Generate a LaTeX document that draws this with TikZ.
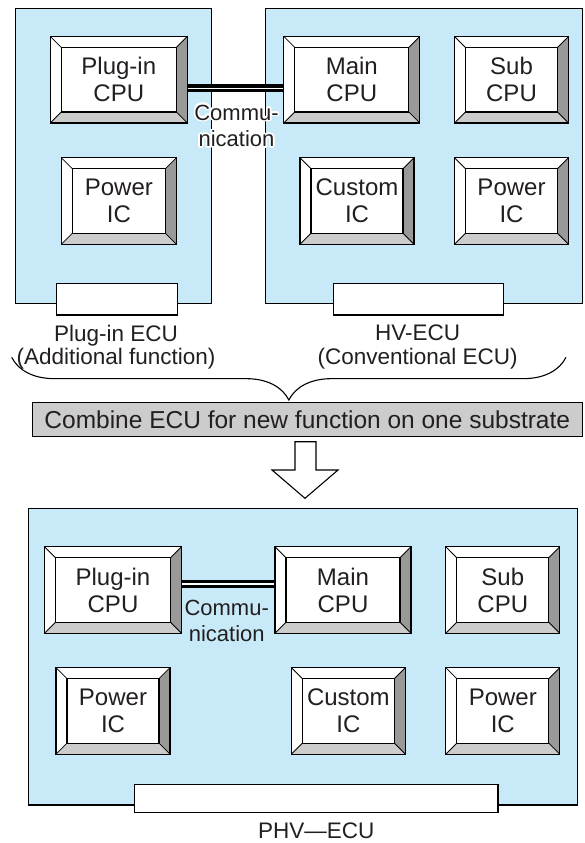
\documentclass[tikz,border=0pt]{standalone}
\usepackage{fontspec}
\usepackage{contour}
\usetikzlibrary{calc}
\usetikzlibrary{decorations.pathreplacing}
\newfontfamily\ecufont{Liberation Sans}
\definecolor{board}{HTML}{C8EAF8}
\definecolor{bevellow}{HTML}{CCCCCC}
\definecolor{bevelright}{HTML}{999999}
\definecolor{banner}{HTML}{CCCCCC}
\definecolor{ink}{HTML}{231F20}
\newcommand{\bevw}{11pt}
\contourlength{1.6pt}
\tikzset{
	chip/.style={draw, line width=1.1pt, minimum height=86.5pt, inner sep=0pt, align=center,
		text=ink, font=\ecufont\fontsize{24}{27}\selectfont,
		path picture={
			\path (path picture bounding box.south west) coordinate (csw)
				(path picture bounding box.north east) coordinate (cne)
				(path picture bounding box.north west) coordinate (cnw)
				(path picture bounding box.south east) coordinate (cse);
			\fill[bevellow] (csw) rectangle (cne);
			\fill[bevelright] (cne) -- ++(-\bevw,-\bevw) -- ($(cse)+(-\bevw,\bevw)$) -- (cse) -- cycle;
			\fill[white] (csw) -- (cnw) -- (cne) -- ++(-\bevw,-\bevw) -- ($(cnw)+(\bevw,-\bevw)$) -- ($(csw)+(\bevw,\bevw)$) -- cycle;
			\draw[line width=1.1pt, fill=white] ($(csw)+(\bevw,\bevw)$) rectangle ($(cne)+(-\bevw,-\bevw)$);
			\draw[line width=0.8pt] (csw) -- ++(\bevw,\bevw) (cnw) -- ++(\bevw,-\bevw)
				(cne) -- ++(-\bevw,-\bevw) (cse) -- ++(-\bevw,\bevw);
		}},
	panel/.style={draw, line width=1.1pt, fill=board},
	plug/.style={draw, line width=1.1pt, fill=white},
	commline/.style={line width=3.3pt, double=white, double distance=1.4pt},
	commtext/.style={inner sep=0pt, align=center, text=ink, font=\ecufont\fontsize{22}{26.5}\selectfont},
	ecutext/.style={inner sep=0pt, align=center, text=ink, font=\ecufont\fontsize{22.5}{23.5}\selectfont},
}
\begin{document}
\begin{tikzpicture}[x=1pt,y=-1pt]
	\useasboundingbox (0,0) rectangle (584,843);
	% two separate boards
	\draw[panel] (15.6,8.3) rectangle (211.2,303.5);
	\draw[panel] (265.2,8.3) rectangle (582.5,303.5);
	\draw[plug] (56.3,283.5) rectangle (177.7,315);
	\draw[plug] (333.3,283.5) rectangle (503.5,315);
	\node[chip, minimum width=137pt] (topplug) at (118.8,79.7) {Plug-in\\CPU};
	\node[chip, minimum width=136pt] (topmain) at (351.8,79.7) {Main\\CPU};
	\node[chip, minimum width=114pt] (topsub) at (511.5,79.7) {Sub\\CPU};
	\node[chip, minimum width=115pt] (toppowl) at (118.9,201) {Power\\IC};
	\node[chip, minimum width=114pt] (topcust) at (357,201) {Custom\\IC};
	\node[chip, minimum width=114pt] (toppowr) at (511.5,201) {Power\\IC};
	\draw[commline] ([yshift=-8.6pt]topplug.east) -- ([yshift=-8.6pt]topmain.west);
	\node[commtext, anchor=north] (topcomm) at (236.5,104.5)
		{\contour{white}{Commu-}\\\contour{white}{nication}};
	\node[ecutext, anchor=north] (plugecu) at (116,324.8) {Plug-in ECU\\(Additional function)};
	\node[ecutext, anchor=north] (hvecu) at (417.7,324.8) {HV-ECU\\(Conventional ECU)};
	% brace and combine step
	\coordinate (bracel) at (11.7,357.3);
	\coordinate (bracer) at (566,357.3);
	\draw[line width=1.1pt, decorate, decoration={brace, mirror, amplitude=42.7pt}] (bracel) -- (bracer);
	\node[draw, line width=1.1pt, fill=banner, minimum width=550pt, minimum height=34pt, inner sep=0pt,
		text=ink, font=\ecufont\fontsize{24.5}{28}\selectfont] (combine) at (307.3,419.7)
		{Combine ECU for new function on one substrate};
	\draw[line width=1.1pt, fill=white] (295,441.7) -- (316,441.7) -- (316,470) -- (338,470)
		-- (305,498.3) -- (272,470) -- (295,470) -- cycle;
	% one board
	\draw[panel] (28.3,508.3) rectangle (577.3,805);
	\draw[plug] (134.8,784.3) rectangle (498,812.5);
	\node[chip, minimum width=137pt] (botplug) at (113,590) {Plug-in\\CPU};
	\node[chip, minimum width=136pt] (botmain) at (343,590) {Main\\CPU};
	\node[chip, minimum width=114pt] (botsub) at (502.8,590) {Sub\\CPU};
	\node[chip, minimum width=114pt] (botpowl) at (113,710.9) {Power\\IC};
	\node[chip, minimum width=114pt] (botcust) at (348.4,710.9) {Custom\\IC};
	\node[chip, minimum width=114pt] (botpowr) at (502.8,710.9) {Power\\IC};
	\draw[commline] ([yshift=6.2pt]botplug.east) -- ([yshift=6.2pt]botmain.west);
	\node[commtext, anchor=north] (botcomm) at (226.7,599.5) {Commu-\\nication};
	\node[ecutext, anchor=base] (phvecu) at (316.3,838.3) {PHV—ECU};
\end{tikzpicture}
\end{document}
